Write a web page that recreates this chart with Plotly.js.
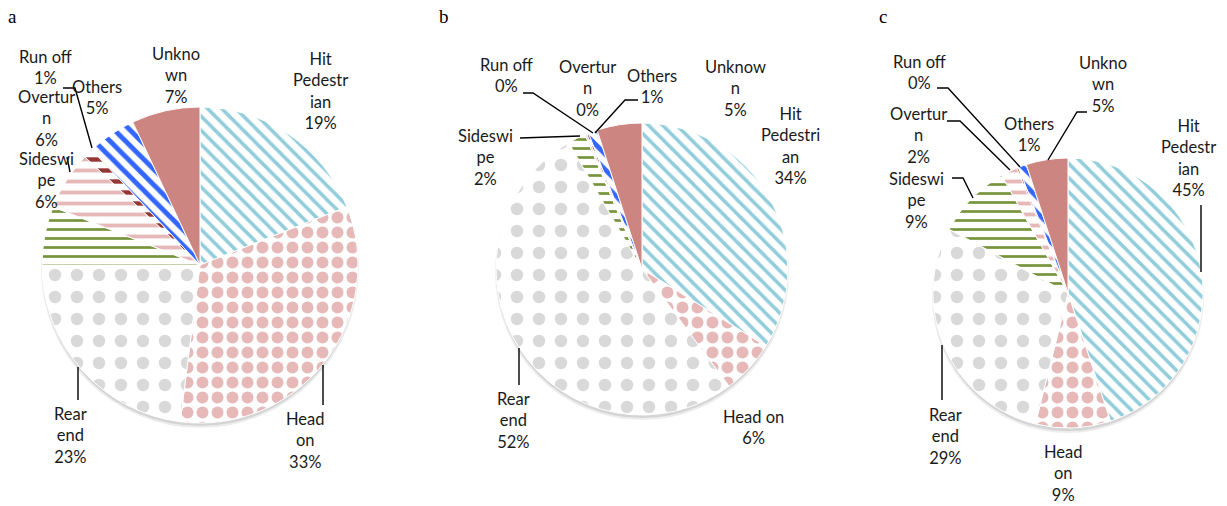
<!DOCTYPE html>
<html><head><meta charset="utf-8">
<script src="https://cdn.plot.ly/plotly-3.0.1.min.js"></script>
<style>html,body{margin:0;padding:0;background:#fff}</style>
</head><body><div id="chart" style="width:1227px;height:506px"></div>
<script>
// ---------- data ----------
const categories = ["Hit Pedestrian","Head on","Rear end","Sideswipe","Overturn","Run off","Others","Unknown"];
const valuesA = [19, 33, 23, 6, 6, 1, 5, 7];
const valuesB = [34, 6, 52, 2, 0.2, 0.2, 1, 5];
const valuesC = [45, 9, 29, 9, 2, 0.2, 1, 5];
const panelLetters = ["a", "b", "c"];
// category names as wrapped on each chart
const labelsA = ["Hit<br>Pedestr<br>ian","Head<br>on","Rear<br>end","Sideswi<br>pe","Overtur<br>n","Run off","Others","Unkno<br>wn"];
const labelsB = ["Hit<br>Pedestri<br>an","Head on","Rear<br>end","Sideswi<br>pe","Overtur<br>n","Run off","Others","Unknow<br>n"];
const labelsC = ["Hit<br>Pedestr<br>ian","Head<br>on","Rear<br>end","Sideswi<br>pe","Overtur<br>n","Run off","Others","Unkno<br>wn"];

// ---------- styles / layout (pixels) ----------
const W = 1227, H = 506;
const fgColors = ['#92CDDC','#E6B9B8','#D9D9D9','#77933C','#E6B9B8','#953735','#3366FF','#CD8582'];
const patShapes = ['\\', '.', '.', '-', '-', '-', '\\', ''];
const patSizes = [10, 15, 22, 9, 11, 11, 11, 8];
const patSolid = [0.35, 0.5, 0.25, 0.3, 0.35, 0.4, 0.45, 0.3];
const pieGeom = [ {cx:200, cy:265, r:158}, {cx:642, cy:269, r:146}, {cx:1068, cy:293, r:135} ];
const letterPos = [[12,16],[444,16],[883,16]];
const labelPos = [
  [[320,91],[305,440],[70,435],[46,181],[46,119],[45,67],[97,97],[176,75]],
  [[790,146],[753,427],[513,420],[485,157],[587,88],[506,75],[652,86],[735,88]],
  [[1188,158],[1063,473],[945,436],[917,201],[918,135],[919,72],[1029,134],[1103,84]]
];
const leaders = [
  [[63,88],[75,88],[92,148]], [[67,157],[70,172]], [[78,367],[78,400]], [[323,365],[323,405]],
  [[523,93],[533,93],[593,133]], [[638,100],[625,100],[595,133]], [[520,138],[580,136]], [[519,348],[519,385]],
  [[937,88],[948,88],[1020,167]], [[947,121],[960,121],[1010,170]], [[1087,112],[1077,112],[1048,160]],
  [[1201,205],[1201,272]], [[952,178],[963,178],[973,198]], [[942,345],[942,400]]
];

const px = x => x / W, py = y => 1 - y / H;
const allValues = [valuesA, valuesB, valuesC];
const allLabels = [labelsA, labelsB, labelsC];

const traces = [], annotations = [], shapes = [];
allValues.forEach((vals, i) => {
  const g = pieGeom[i];
  shapes.push({type:'circle', xref:'paper', yref:'paper', layer:'below',
    x0:px(g.cx-g.r-1), x1:px(g.cx+g.r+1), y0:py(g.cy+g.r+5), y1:py(g.cy-g.r+2),
    fillcolor:'rgba(0,0,0,0.07)', line:{width:0}});
  shapes.push({type:'circle', xref:'paper', yref:'paper', layer:'below',
    x0:px(g.cx-g.r), x1:px(g.cx+g.r), y0:py(g.cy+g.r+3), y1:py(g.cy-g.r+1),
    fillcolor:'rgba(0,0,0,0.10)', line:{width:0}});
  traces.push({
    type:'pie', labels:categories, values:vals, sort:false, direction:'clockwise', rotation:0,
    textinfo:'none', hoverinfo:'label+percent', showlegend:false,
    domain:{x:[px(g.cx-g.r), px(g.cx+g.r)], y:[py(g.cy+g.r), py(g.cy-g.r)]},
    marker:{
      colors:fgColors,
      line:{color:'#FFFFFF', width:1},
      pattern:{shape:patShapes, fgcolor:fgColors,
        bgcolor:fgColors.map((c,k)=> patShapes[k]==='' ? c : '#FFFFFF'),
        size:patSizes, solidity:patSolid, fillmode:'replace'}
    }
  });
  const sum = vals.reduce((a,b)=>a+b,0);
  vals.forEach((v,k) => {
    const p = labelPos[i][k];
    annotations.push({xref:'paper', yref:'paper', x:px(p[0]), y:py(p[1]),
      xanchor:'center', yanchor:'middle', align:'center', showarrow:false, borderpad:0,
      text: allLabels[i][k] + '<br>' + Math.round(v/sum*100) + '%',
      font:{family:'Lato, sans-serif', size:16.5, color:'#1a1a1a'}});
  });
  annotations.push({xref:'paper', yref:'paper', x:px(letterPos[i][0]), y:py(letterPos[i][1]),
    xanchor:'center', yanchor:'middle', showarrow:false, text:panelLetters[i],
    font:{family:'Liberation Serif, serif', size:19, color:'#000'}});
});
leaders.forEach(pts => {
  shapes.push({type:'path', xref:'paper', yref:'paper', layer:'above',
    path: pts.map((p,j)=>(j?'L':'M')+px(p[0])+','+py(p[1])).join(' '),
    line:{color:'#000', width:1.4}});
});

Plotly.newPlot('chart', traces, {
  width:W, height:H, margin:{l:0,r:0,t:0,b:0},
  paper_bgcolor:'#fff', plot_bgcolor:'#fff',
  annotations:annotations, shapes:shapes, showlegend:false
}, {displayModeBar:false, staticPlot:true});
</script></body></html>
